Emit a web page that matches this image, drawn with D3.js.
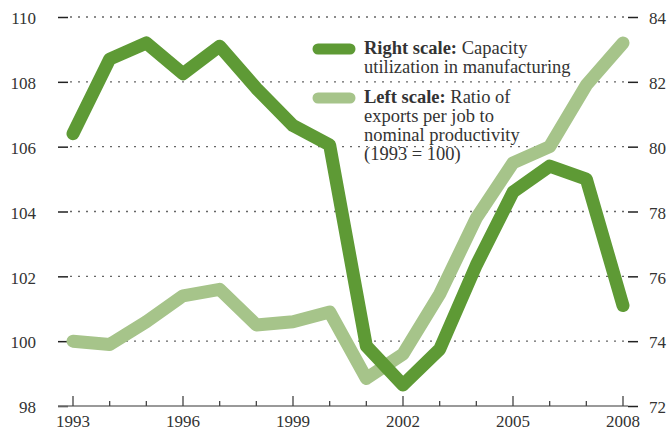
<!DOCTYPE html>
<html>
<head>
<meta charset="utf-8">
<script src="https://cdn.jsdelivr.net/npm/d3@7"></script>
<style>
  body { margin: 0; background: #fff; }
  svg text { font-family: "Liberation Serif", serif; fill: #333; }
</style>
</head>
<body>
<div id="chart"></div>
<script>
// years on the x axis
var years = d3.range(1993, 2009);
var yearLabels = [1993, 1996, 1999, 2002, 2005, 2008];

// left scale: ratio of exports per job to nominal productivity (1993 = 100)
var exportsRatio = [100.0, 99.9, 100.6, 101.4, 101.6, 100.5, 100.6, 100.9,
                    98.85, 99.6, 101.45, 103.8, 105.5, 106.0, 107.9, 109.2];
// right scale: capacity utilization in manufacturing
var capacityUtil = [80.4, 82.7, 83.2, 82.25, 83.1, 81.8, 80.65, 80.05,
                    73.85, 72.65, 73.75, 76.35, 78.6, 79.4, 79.0, 75.1];

var leftTicks = [98, 100, 102, 104, 106, 108, 110];
var rightTicks = [72, 74, 76, 78, 80, 82, 84];

var width = 668;
var height = 431;
var darkGreen = "#5e9a35";
var lightGreen = "#a6c48a";

var svg = d3.select("#chart")
  .append("svg")
  .attr("width", width)
  .attr("height", height);

// scales
var x = d3.scaleLinear().domain([1993, 2008]).range([73, 623]);
var yLeft = d3.scaleLinear().domain([98, 110]).range([406, 17]);
var yRight = d3.scaleLinear().domain([72, 84]).range([406, 17]);

// dotted gridlines
svg.append("g")
  .selectAll("line")
  .data(leftTicks.slice(1))
  .enter()
  .append("line")
  .attr("x1", 70)
  .attr("x2", 628)
  .attr("y1", d => yLeft(d))
  .attr("y2", d => yLeft(d))
  .attr("stroke", "#666")
  .attr("stroke-width", 1.4)
  .attr("stroke-dasharray", "2,6");

// left axis
var leftAxis = svg.append("g")
  .attr("transform", "translate(68,0)")
  .call(d3.axisLeft(yLeft).tickValues(leftTicks).tickSize(10).tickPadding(22));
leftAxis.select(".domain").remove();
leftAxis.selectAll("line").attr("stroke", "#222").attr("stroke-width", 1.5);
leftAxis.selectAll("text").attr("font-size", 17).attr("dy", "0.4em");

// right axis
var rightAxis = svg.append("g")
  .attr("transform", "translate(628,0)")
  .call(d3.axisRight(yRight).tickValues(rightTicks).tickSize(10).tickPadding(11));
rightAxis.select(".domain").remove();
rightAxis.selectAll("line").attr("stroke", "#222").attr("stroke-width", 1.5);
rightAxis.selectAll("text").attr("font-size", 17).attr("dy", "0.4em");

// bottom baseline with year ticks
svg.append("line")
  .attr("x1", 58).attr("x2", 628)
  .attr("y1", 406).attr("y2", 406)
  .attr("stroke", "#777").attr("stroke-width", 1.5);

svg.append("g")
  .selectAll("line")
  .data(years)
  .enter()
  .append("line")
  .attr("x1", d => x(d))
  .attr("x2", d => x(d))
  .attr("y1", 406)
  .attr("y2", d => yearLabels.indexOf(d) >= 0 ? 396 : 401)
  .attr("stroke", "#444")
  .attr("stroke-width", 1.3);

svg.append("g")
  .selectAll("text")
  .data(yearLabels)
  .enter()
  .append("text")
  .attr("x", d => x(d))
  .attr("y", 427)
  .attr("text-anchor", "middle")
  .attr("font-size", 17)
  .text(d => d);

// the two series
var lineLeft = d3.line().x((d, i) => x(years[i])).y(d => yLeft(d));
var lineRight = d3.line().x((d, i) => x(years[i])).y(d => yRight(d));

svg.append("path")
  .datum(exportsRatio)
  .attr("d", lineLeft)
  .attr("fill", "none")
  .attr("stroke", lightGreen)
  .attr("stroke-width", 13)
  .attr("stroke-linejoin", "round")
  .attr("stroke-linecap", "round");

svg.append("path")
  .datum(capacityUtil)
  .attr("d", lineRight)
  .attr("fill", "none")
  .attr("stroke", darkGreen)
  .attr("stroke-width", 13)
  .attr("stroke-linejoin", "round")
  .attr("stroke-linecap", "round");

// legend
var legend = [
  { color: darkGreen, y: 49, bold: "Right scale:", lines: [" Capacity", "utilization in manufacturing"] },
  { color: lightGreen, y: 98, bold: "Left scale:", lines: [" Ratio of", "exports per job to", "nominal productivity", "(1993 = 100)"] }
];

legend.forEach(function (item) {
  svg.append("line")
    .attr("x1", 318).attr("x2", 350)
    .attr("y1", item.y).attr("y2", item.y)
    .attr("stroke", item.color)
    .attr("stroke-width", 11)
    .attr("stroke-linecap", "round");

  var t = svg.append("text")
    .attr("x", 364)
    .attr("y", item.y + 5)
    .attr("font-size", 18.5);
  t.append("tspan").attr("font-weight", "bold").text(item.bold);
  t.append("tspan").text(item.lines[0]);
  item.lines.slice(1).forEach(function (l) {
    t.append("tspan").attr("x", 364).attr("dy", 19).text(l);
  });
});
</script>
</body>
</html>
